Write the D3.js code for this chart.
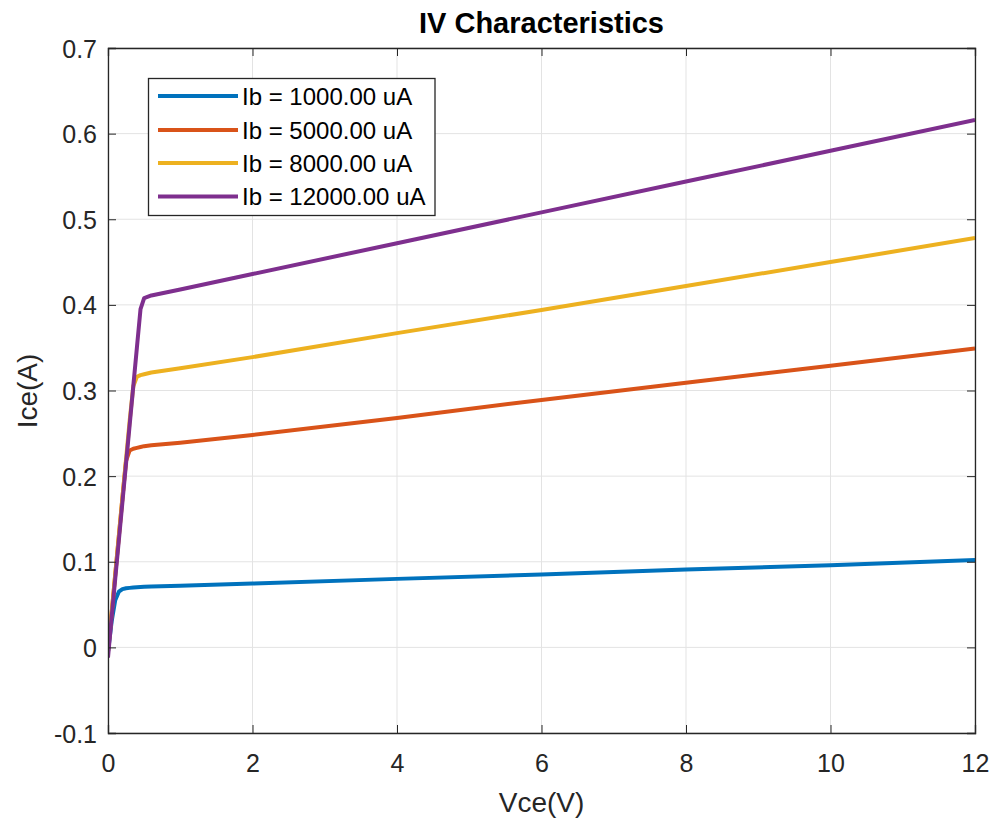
<!DOCTYPE html>
<html>
<head>
<meta charset="utf-8">
<script src="https://cdn.jsdelivr.net/npm/d3@7"></script>
<style>
  body { margin: 0; background: #fff; }
  svg { font-family: "Liberation Sans", Arial, Helvetica, sans-serif; }
</style>
</head>
<body>
<svg id="chart" width="997" height="825"></svg>
<script>
// ---- data ----
const vce = [0, 0.05, 0.1, 0.15, 0.2, 0.25, 0.3, 0.35, 0.4, 0.45, 0.5, 0.6, 1, 2, 4, 6, 8, 10, 12];
const ice1000  = [-0.005, 0.030, 0.055, 0.065, 0.068, 0.069, 0.0695, 0.070, 0.0703, 0.0705, 0.0707, 0.071, 0.072, 0.0745, 0.080, 0.085, 0.091, 0.096, 0.102];
const ice5000  = [-0.005, 0.040, 0.085, 0.130, 0.175, 0.218, 0.230, 0.232, 0.233, 0.234, 0.235, 0.236, 0.239, 0.248, 0.268, 0.289, 0.309, 0.329, 0.349];
const ice8000  = [-0.005, 0.040, 0.085, 0.130, 0.175, 0.220, 0.265, 0.305, 0.316, 0.318, 0.319, 0.321, 0.326, 0.339, 0.367, 0.394, 0.422, 0.450, 0.478];
const ice12000 = [-0.012, 0.035, 0.080, 0.125, 0.170, 0.215, 0.260, 0.305, 0.350, 0.395, 0.408, 0.411, 0.418, 0.436, 0.472, 0.508, 0.544, 0.580, 0.616];
const seriesNames = ["Ib = 1000.00 uA", "Ib = 5000.00 uA", "Ib = 8000.00 uA", "Ib = 12000.00 uA"];
const seriesValues = [ice1000, ice5000, ice8000, ice12000];
const seriesColors = ["#0072BD", "#D95319", "#EDB120", "#7E2F8E"];
const xTicks = [0, 2, 4, 6, 8, 10, 12];
const yTicks = [-0.1, 0, 0.1, 0.2, 0.3, 0.4, 0.5, 0.6, 0.7];
const titleText = "IV Characteristics";
const xLabel = "Vce(V)";
const yLabel = "Ice(A)";

// ---- layout ----
const L = 108, R = 975, T = 48, B = 733;
const svg = d3.select("#chart");
const x = d3.scaleLinear().domain([0, 12]).range([L, R]);
const y = d3.scaleLinear().domain([-0.1, 0.7]).range([B, T]);
const axisColor = "#262626";
const font = "'Liberation Sans', Arial, sans-serif";

// grid
const grid = svg.append("g");
grid.selectAll("line.gx").data(xTicks).enter().append("line")
  .attr("x1", d => x(d)).attr("x2", d => x(d)).attr("y1", T).attr("y2", B)
  .attr("stroke", "#e3e3e3").attr("stroke-width", 1);
grid.selectAll("line.gy").data(yTicks).enter().append("line")
  .attr("x1", L).attr("x2", R).attr("y1", d => y(d)).attr("y2", d => y(d))
  .attr("stroke", "#e3e3e3").attr("stroke-width", 1);

// lines
svg.append("clipPath").attr("id", "clip").append("rect")
  .attr("x", L).attr("y", T).attr("width", R - L).attr("height", B - T);
const line = d3.line().x((d, i) => x(vce[i])).y(d => y(d));
svg.append("g").attr("clip-path", "url(#clip)")
  .selectAll("path").data(seriesValues).enter().append("path")
  .attr("d", d => line(d))
  .attr("fill", "none")
  .attr("stroke", (d, i) => seriesColors[i])
  .attr("stroke-width", 4)
  .attr("stroke-linejoin", "round");

// axes (ticks inside)
const tickLen = 8;
const fmtY = d => d === 0 ? "0" : (d < 0 ? "-" + d3.format(".1f")(-d) : d3.format(".1f")(d));
const xAxisB = d3.axisBottom(x).tickValues(xTicks).tickSize(-tickLen).tickFormat(d3.format("d"));
const xAxisT = d3.axisTop(x).tickValues(xTicks).tickSize(-tickLen).tickFormat("");
const yAxisL = d3.axisLeft(y).tickValues(yTicks).tickSize(-tickLen).tickFormat(fmtY);
const yAxisR = d3.axisRight(y).tickValues(yTicks).tickSize(-tickLen).tickFormat("");

function styleAxis(g) {
  g.select(".domain").attr("stroke", axisColor).attr("stroke-width", 1.3);
  g.selectAll(".tick line").attr("stroke", axisColor).attr("stroke-width", 1);
  g.selectAll(".tick text").attr("fill", axisColor).style("font-size", "25px")
    .style("font-family", font);
}
svg.append("g").attr("transform", `translate(0,${B})`).call(xAxisB).call(styleAxis)
  .selectAll(".tick text").attr("y", 39).attr("dy", null);
svg.append("g").attr("transform", `translate(0,${T})`).call(xAxisT).call(styleAxis);
svg.append("g").attr("transform", `translate(${L},0)`).call(yAxisL).call(styleAxis)
  .selectAll(".tick text").attr("x", -11).attr("dy", "0.36em");
svg.append("g").attr("transform", `translate(${R},0)`).call(yAxisR).call(styleAxis);

// title & labels
svg.append("text").attr("x", 541.5).attr("y", 33).attr("text-anchor", "middle")
  .attr("fill", "#000").style("font-family", font).style("font-size", "29px").style("font-weight", "bold").text(titleText);
svg.append("text").attr("x", (L + R) / 2).attr("y", 812).attr("text-anchor", "middle")
  .attr("fill", axisColor).style("font-family", font).style("font-size", "28px").text(xLabel);
svg.append("text").attr("transform", `translate(36.5,${391}) rotate(-90)`).attr("text-anchor", "middle")
  .attr("fill", axisColor).style("font-family", font).style("font-size", "28px").text(yLabel);

// legend
const lg = svg.append("g");
lg.append("rect").attr("x", 148.5).attr("y", 78.5).attr("width", 286.5).attr("height", 137)
  .attr("fill", "#fff").attr("stroke", axisColor).attr("stroke-width", 1.3);
const rowY = [96, 130, 163, 196.5];
seriesNames.forEach((name, i) => {
  lg.append("line").attr("x1", 158).attr("x2", 238).attr("y1", rowY[i]).attr("y2", rowY[i])
    .attr("stroke", seriesColors[i]).attr("stroke-width", 4);
  lg.append("text").attr("x", 242).attr("y", rowY[i]).attr("dy", "0.36em")
    .attr("fill", "#000").style("font-family", font).style("font-size", "24px").text(name);
});
</script>
</body>
</html>
